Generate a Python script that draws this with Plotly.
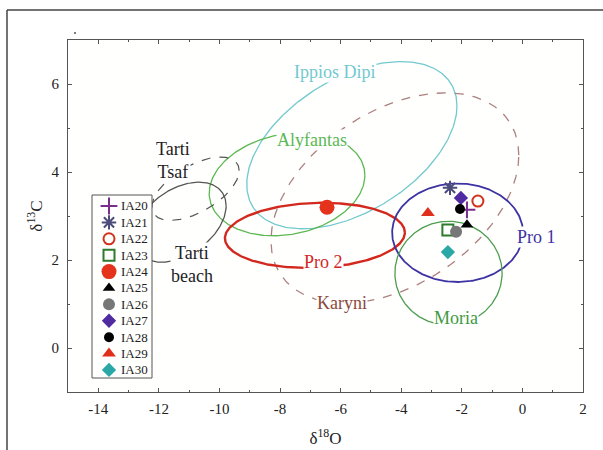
import numpy as np
import plotly.graph_objects as go

# ---- data ----
samples = ["IA20", "IA21", "IA22", "IA23", "IA24", "IA25", "IA26", "IA27", "IA28", "IA29", "IA30"]
d18O = [-1.83, -2.39, -1.47, -2.46, -6.45, -1.83, -2.19, -2.03, -2.06, -3.12, -2.46]
d13C = [3.14, 3.64, 3.34, 2.68, 3.20, 2.80, 2.64, 3.41, 3.16, 3.07, 2.18]

# field ellipses: centre x, centre y, half-width x, half-height y, tilt phase (deg)
fields = ["Ippios Dipi", "Alyfantas", "Karyni", "Pro 2", "Pro 1", "Moria", "Tarti Tsaf", "Tarti beach"]
field_cx = [-5.63, -7.77, -4.21, -6.85, -2.14, -2.44, -10.79, -11.30]
field_cy = [4.61, 3.72, 3.41, 2.56, 2.62, 1.70, 3.62, 2.86]
field_rx = [3.47, 2.57, 4.09, 2.97, 2.16, 1.77, 1.44, 1.52]
field_ry = [1.90, 1.17, 2.39, 0.74, 1.12, 1.18, 0.72, 0.91]
field_phi = [62, 80, 66, 85, 90, 90, 55, 66]

# field labels
label_text = ["Ippios Dipi", "Alyfantas", "Karyni", "Pro 2", "Pro 1", "Moria", "Tarti<br>Tsaf", "Tarti<br>beach"]
label_x = [-6.19, -6.95, -5.96, -6.55, 0.48, -2.19, -11.53, -10.91]
label_y = [6.27, 4.73, 1.02, 1.95, 2.52, 0.68, 4.27, 1.89]

x_ticks = [-14, -12, -10, -8, -6, -4, -2, 0, 2]
y_ticks = [0, 2, 4, 6]

# ---- styles ----
line_color = ["#72c9ce", "#5cb852", "#ad7f7f", "#d2281e", "#3d33a3", "#4f9d4f", "#555555", "#555555"]
line_dash = ["solid", "solid", "dash", "solid", "solid", "solid", "dash", "solid"]
line_width = [1.3, 1.3, 1.3, 2.4, 1.8, 1.3, 1.2, 1.3]
label_color = ["#72c9ce", "#5cb852", "#8b4a3a", "#d2281e", "#3d33a3", "#3f9a3f", "#222222", "#222222"]

m_symbol = ["cross-thin-open", "asterisk-open", "circle-open", "square-open", "circle",
            "triangle-up", "circle", "diamond", "circle", "triangle-up", "diamond"]
m_color = ["#7b2d8e", "#4b4b7c", "#d2321e", "#2e7a2e", "#e5321c",
           "#000000", "#777777", "#4f2aa0", "#000000", "#e0301c", "#2aa8a8"]
m_size = [12, 12, 11, 11, 15, 11, 12, 11, 10, 12, 11]

SERIF = "Liberation Serif, Times New Roman, Times, serif"

fig = go.Figure()

t = np.linspace(0, 2 * np.pi, 300)
for i, name in enumerate(fields):
    phi = np.deg2rad(field_phi[i])
    ex = field_cx[i] + field_rx[i] * np.cos(t)
    ey = field_cy[i] + field_ry[i] * np.cos(t - phi)
    fig.add_trace(go.Scatter(x=ex, y=ey, mode="lines", name=name, showlegend=False,
                             line=dict(color=line_color[i], dash=line_dash[i], width=line_width[i]),
                             hoverinfo="skip"))

for i, s in enumerate(samples):
    lw = 2 if "open" in m_symbol[i] else 0
    fig.add_trace(go.Scatter(x=[d18O[i]], y=[d13C[i]], mode="markers", name=s, showlegend=False,
                             marker=dict(symbol=m_symbol[i], color=m_color[i], size=m_size[i],
                                         line=dict(width=lw, color=m_color[i]))))

# ---- custom legend in an inset subplot ----
idx = list(range(len(samples)))
for i, s in enumerate(samples):
    lw = 2 if "open" in m_symbol[i] else 0
    fig.add_trace(go.Scatter(x=[17], y=[idx[i]], mode="markers", showlegend=False,
                             xaxis="x2", yaxis="y2",
                             marker=dict(symbol=m_symbol[i], color=m_color[i],
                                         size=min(m_size[i], 13) if i != 4 else 15,
                                         line=dict(width=lw, color=m_color[i]))))
    fig.add_annotation(x=27, y=idx[i], xref="x2", yref="y2", text=s, showarrow=False,
                       xanchor="left", yanchor="middle",
                       font=dict(family=SERIF, size=13, color="#222222"))

# field labels
for i, txt in enumerate(label_text):
    fig.add_annotation(x=label_x[i], y=label_y[i], text=txt, showarrow=False,
                       font=dict(family=SERIF, size=18, color=label_color[i]),
                       bgcolor="white", borderpad=0)

axis_common = dict(showline=True, linecolor="#555555", linewidth=1, mirror="ticks",
                   ticks="inside", ticklen=4, tickcolor="#555555", showgrid=False, zeroline=False,
                   automargin=False,
                   tickfont=dict(family=SERIF, size=15, color="#222222"),
                   minor=dict(ticks="inside", ticklen=2, tickcolor="#555555", dtick=1))

fig.update_layout(
    width=603, height=450,
    margin=dict(l=68, r=20, t=40, b=58),
    paper_bgcolor="white", plot_bgcolor="rgb(255,255,254)",
    xaxis=dict(range=[-15, 2], tickvals=x_ticks, ticktext=[str(v) for v in x_ticks],
               ticklabelstandoff=3,
               title=dict(text="δ<sup>18</sup>O", font=dict(family=SERIF, size=17, color="#222222"),
                          standoff=16),
               **axis_common),
    yaxis=dict(range=[-1, 7], tickvals=y_ticks, ticktext=[str(v) for v in y_ticks],
               ticklabelstandoff=5,
               title=dict(text="δ<sup>13</sup>C", font=dict(family=SERIF, size=17, color="#222222"),
                          standoff=4),
               **axis_common),
    xaxis2=dict(domain=[(92 - 68) / 515, (152 - 68) / 515], range=[0, 60], visible=False,
                anchor="y2", fixedrange=True),
    yaxis2=dict(domain=[(392 - 378) / 352, (392 - 195) / 352], range=[10.49, -0.67], visible=False,
                anchor="x2", fixedrange=True),
    showlegend=False,
)

# legend border
fig.add_shape(type="rect", xref="x2 domain", yref="y2 domain", x0=0, x1=1, y0=0, y1=1,
              line=dict(color="#555555", width=1), layer="above")

# outer frame lines (top and left) and small speck
fig.add_shape(type="line", xref="paper", yref="paper", x0=(7 - 68) / 515, x1=(603 - 68) / 515,
              y0=(392 - 10) / 352, y1=(392 - 10) / 352, line=dict(color="#444444", width=1.5))
fig.add_shape(type="line", xref="paper", yref="paper", x0=(7 - 68) / 515, x1=(7 - 68) / 515,
              y0=(392 - 10) / 352, y1=(392 - 450) / 352, line=dict(color="#444444", width=1.5))
fig.add_shape(type="circle", xref="paper", yref="paper", x0=(74 - 68) / 515, x1=(76 - 68) / 515,
              y0=(392 - 34) / 352, y1=(392 - 32) / 352, fillcolor="#555555", line=dict(width=0))

fig.write_html("out.html")
